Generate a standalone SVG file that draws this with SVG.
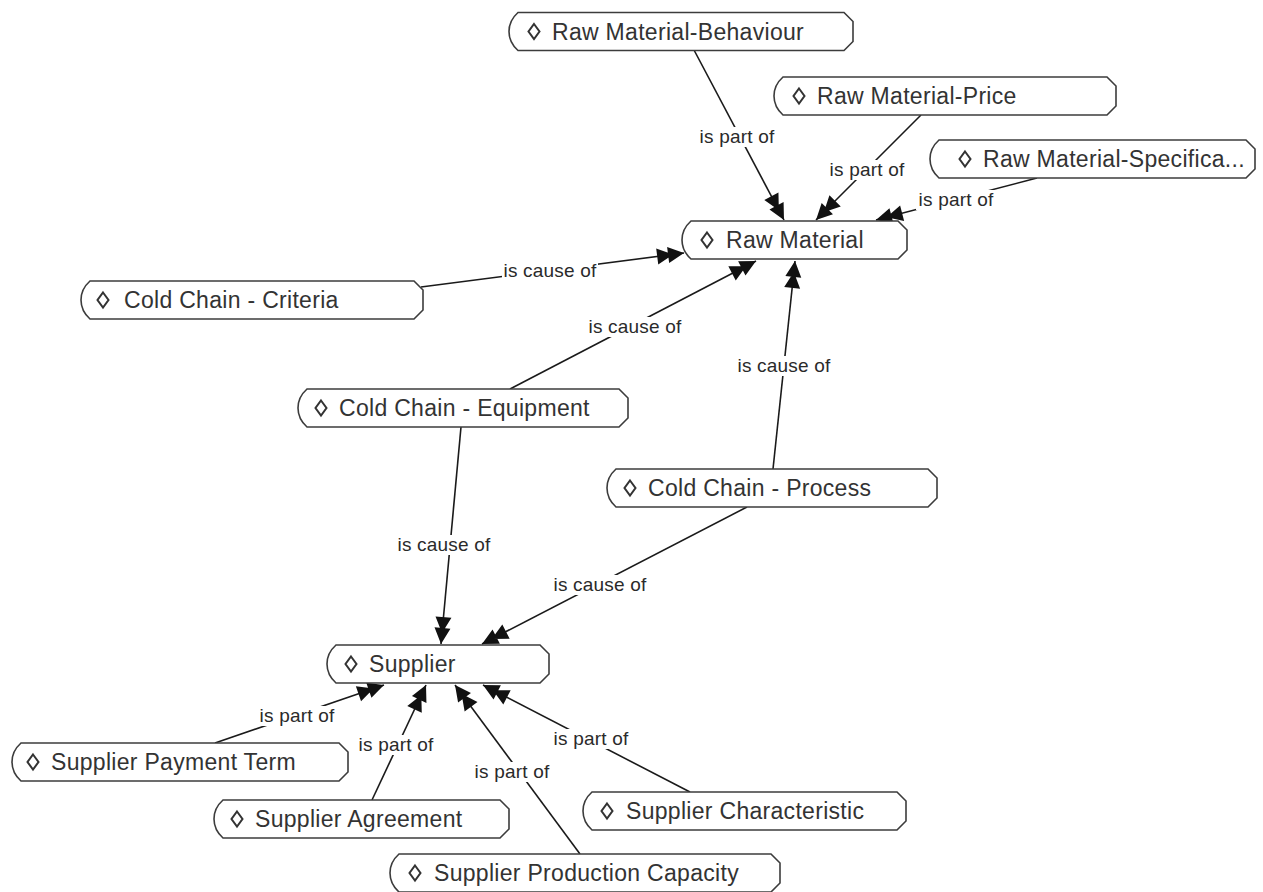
<svg xmlns="http://www.w3.org/2000/svg" width="1263" height="892" viewBox="0 0 1263 892">
  <style>
    .node path.box { fill: #fff; stroke: #3c3c3c; stroke-width: 1.6; }
    .node polygon.icon { fill: none; stroke: #333; stroke-width: 2; }
    .node text { font-family: "Liberation Sans", Arial, sans-serif; font-size: 23px; letter-spacing: 0.3px; fill: #333; }
    .edges line { stroke: #1a1a1a; stroke-width: 1.6; marker-end: url(#dbl); }
    .edges rect { fill: #fff; }
    .edges text { font-family: "Liberation Sans", Arial, sans-serif; font-size: 19px; letter-spacing: 0.2px; fill: #2a2a2a; text-anchor: middle; }
  </style>
  <defs>
    <!-- double filled arrowhead, tip at the line end -->
    <marker id="dbl" markerUnits="userSpaceOnUse" viewBox="-30 -10 31 20" refX="0" refY="0" markerWidth="31" markerHeight="20" orient="auto">
      <path d="M0,0 L-16,-8 L-16,8 Z M-11,0 L-27,-8 L-27,8 Z" fill="#111"/>
    </marker>
  </defs>
  <rect width="1263" height="892" fill="#fff"/>

  <!-- connectors -->
  <g class="edges" id="edges">
    <line x1="694" y1="50" x2="784" y2="220"/>
    <line x1="921" y1="115" x2="816" y2="220"/>
    <line x1="1037" y1="178" x2="876" y2="220"/>
    <line x1="421" y1="287" x2="684" y2="253"/>
    <line x1="510" y1="389" x2="756" y2="261"/>
    <line x1="773" y1="469" x2="795" y2="261"/>
    <line x1="461" y1="427" x2="441" y2="644"/>
    <line x1="747" y1="507" x2="482" y2="644"/>
    <line x1="215" y1="743" x2="384" y2="685"/>
    <line x1="372" y1="800" x2="426" y2="685"/>
    <line x1="580" y1="854" x2="455" y2="685"/>
    <line x1="690" y1="792" x2="483" y2="685"/>

    <!-- label plates keep the lines from running through the text -->
    <rect x="697" y="127" width="80" height="20"/>
    <rect x="827" y="160" width="80" height="20"/>
    <rect x="916" y="190" width="80" height="20"/>
    <rect x="502" y="261" width="96" height="20"/>
    <rect x="587" y="317" width="96" height="20"/>
    <rect x="736" y="356" width="96" height="20"/>
    <rect x="396" y="535" width="96" height="20"/>
    <rect x="552" y="575" width="96" height="20"/>
    <rect x="257" y="706" width="80" height="20"/>
    <rect x="356" y="735" width="80" height="20"/>
    <rect x="472" y="762" width="80" height="20"/>
    <rect x="551" y="729" width="80" height="20"/>

    <text x="737" y="143">is part of</text>
    <text x="867" y="176">is part of</text>
    <text x="956" y="206">is part of</text>
    <text x="550" y="277">is cause of</text>
    <text x="635" y="333">is cause of</text>
    <text x="784" y="372">is cause of</text>
    <text x="444" y="551">is cause of</text>
    <text x="600" y="591">is cause of</text>
    <text x="297" y="722">is part of</text>
    <text x="396" y="751">is part of</text>
    <text x="512" y="778">is part of</text>
    <text x="591" y="745">is part of</text>
  </g>

  <!-- nodes: octagonal tag boxes, 38px tall -->
  <g class="node" id="raw-material-behaviour" transform="translate(509,12.5)">
    <path class="box" d="M9,0 H335 L344,9 V29 L335,38 H9 Q0,30 0,19 Q0,8 9,0 Z"/>
    <polygon class="icon" points="25,11.5 30.5,19 25,26.5 19.5,19"/>
    <text x="43" y="27">Raw Material-Behaviour</text>
  </g>
  <g class="node" id="raw-material-price" transform="translate(774,77)">
    <path class="box" d="M9,0 H333 L342,9 V29 L333,38 H9 Q0,30 0,19 Q0,8 9,0 Z"/>
    <polygon class="icon" points="25,11.5 30.5,19 25,26.5 19.5,19"/>
    <text x="43" y="27">Raw Material-Price</text>
  </g>
  <g class="node" id="raw-material-specification" transform="translate(930,140)">
    <path class="box" d="M9,0 H316 L325,9 V29 L316,38 H9 Q0,30 0,19 Q0,8 9,0 Z"/>
    <polygon class="icon" points="35,11.5 40.5,19 35,26.5 29.5,19"/>
    <text x="53" y="27">Raw Material-Specifica...</text>
  </g>
  <g class="node" id="raw-material" transform="translate(682,221)">
    <path class="box" d="M9,0 H216 L225,9 V29 L216,38 H9 Q0,30 0,19 Q0,8 9,0 Z"/>
    <polygon class="icon" points="25,11.5 30.5,19 25,26.5 19.5,19"/>
    <text x="44" y="27">Raw Material</text>
  </g>
  <g class="node" id="cold-chain-criteria" transform="translate(81,281)">
    <path class="box" d="M9,0 H333 L342,9 V29 L333,38 H9 Q0,30 0,19 Q0,8 9,0 Z"/>
    <polygon class="icon" points="22,11.5 27.5,19 22,26.5 16.5,19"/>
    <text x="43" y="27">Cold Chain - Criteria</text>
  </g>
  <g class="node" id="cold-chain-equipment" transform="translate(298,389)">
    <path class="box" d="M9,0 H321 L330,9 V29 L321,38 H9 Q0,30 0,19 Q0,8 9,0 Z"/>
    <polygon class="icon" points="23,11.5 28.5,19 23,26.5 17.5,19"/>
    <text x="41" y="27">Cold Chain - Equipment</text>
  </g>
  <g class="node" id="cold-chain-process" transform="translate(607,469)">
    <path class="box" d="M9,0 H321 L330,9 V29 L321,38 H9 Q0,30 0,19 Q0,8 9,0 Z"/>
    <polygon class="icon" points="23,11.5 28.5,19 23,26.5 17.5,19"/>
    <text x="41" y="27">Cold Chain - Process</text>
  </g>
  <g class="node" id="supplier" transform="translate(327,645)">
    <path class="box" d="M9,0 H213 L222,9 V29 L213,38 H9 Q0,30 0,19 Q0,8 9,0 Z"/>
    <polygon class="icon" points="24,11.5 29.5,19 24,26.5 18.5,19"/>
    <text x="42" y="27">Supplier</text>
  </g>
  <g class="node" id="supplier-payment-term" transform="translate(12,743)">
    <path class="box" d="M9,0 H327 L336,9 V29 L327,38 H9 Q0,30 0,19 Q0,8 9,0 Z"/>
    <polygon class="icon" points="21,11.5 26.5,19 21,26.5 15.5,19"/>
    <text x="39" y="27">Supplier Payment Term</text>
  </g>
  <g class="node" id="supplier-agreement" transform="translate(214,800)">
    <path class="box" d="M9,0 H286 L295,9 V29 L286,38 H9 Q0,30 0,19 Q0,8 9,0 Z"/>
    <polygon class="icon" points="23,11.5 28.5,19 23,26.5 17.5,19"/>
    <text x="41" y="27">Supplier Agreement</text>
  </g>
  <g class="node" id="supplier-characteristic" transform="translate(583,792)">
    <path class="box" d="M9,0 H314 L323,9 V29 L314,38 H9 Q0,30 0,19 Q0,8 9,0 Z"/>
    <polygon class="icon" points="24,11.5 29.5,19 24,26.5 18.5,19"/>
    <text x="43" y="27">Supplier Characteristic</text>
  </g>
  <g class="node" id="supplier-production-capacity" transform="translate(390,854)">
    <path class="box" d="M9,0 H381 L390,9 V29 L381,38 H9 Q0,30 0,19 Q0,8 9,0 Z"/>
    <polygon class="icon" points="25,11.5 30.5,19 25,26.5 19.5,19"/>
    <text x="44" y="27">Supplier Production Capacity</text>
  </g>
</svg>
